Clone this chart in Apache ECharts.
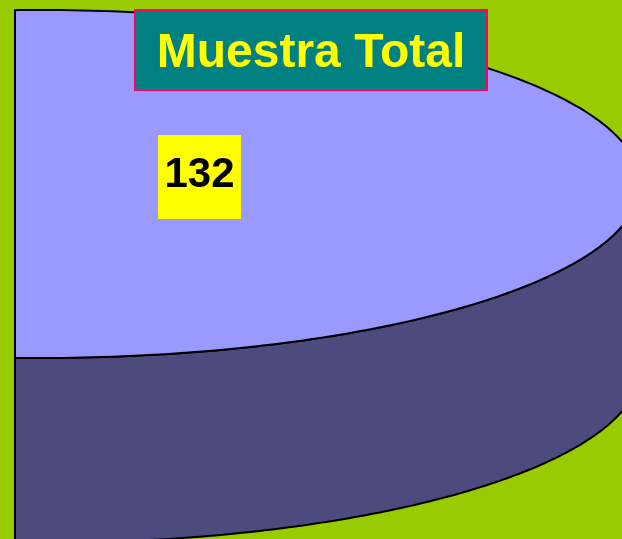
<!DOCTYPE html>
<html lang="es">
<head>
	<meta charset="UTF-8">
	<title>Muestra Total</title>
	<script src="https://cdn.jsdelivr.net/npm/echarts@6/dist/echarts.min.js"></script>
	<style>
		html, body { margin: 0; padding: 0; background: #99CC00; }
	</style>
</head>
<body>
	<div id="container" style="width:622px;height:539px;"></div>

	<script>
		// datos
		var categories = ['Muestra Total'];
		var values = [132];
		var valueLabels = ['132'];

		var total = values.reduce(function(s, v){ return s + v; }, 0);

		// geometria de la torta 3D (elipse recortada a la izquierda)
		var CX = 40, CY = 184, RX = 600, RY = 174, DEPTH = 185, CLIP_L = 15;
		var STEPS = 360;

		var dom = document.getElementById('container');
		var myChart = echarts.init(dom);

		function pt(t, dy){
			var x = CX + RX * Math.cos(t);
			return [Math.max(x, CLIP_L), CY + RY * Math.sin(t) + dy];
		}

		var option = {
			backgroundColor: '#99CC00',
			title: {
				text: categories[0],
				left: 'center',
				top: 10,
				backgroundColor: '#008080',
				borderColor: '#FF0066',
				borderWidth: 2,
				padding: [18, 22, 10, 22],
				textStyle: {
					color: '#FFFF00',
					fontFamily: 'Liberation Sans, Arial, sans-serif',
					fontWeight: 'bold',
					fontSize: 48,
					lineHeight: 52
				},
				z: 10
			},
			series: [{
				type: 'custom',
				coordinateSystem: 'none',
				data: values.map(function(v, i){ return [i, v]; }),
				renderItem: function(params, api){
					var i = params.dataIndex;
					var v = api.value(1);
					var before = 0;
					for (var k = 0; k < i; k++) before += values[k];
					var t0 = -Math.PI / 2 + before / total * Math.PI * 2;
					var t1 = t0 + v / total * Math.PI * 2;
					var full = (t1 - t0) >= Math.PI * 2 - 1e-6;
					var children = [];

					// lado visible (mitad inferior)
					var a0 = Math.max(t0, 0), a1 = Math.min(t1, Math.PI);
					if (a1 > a0) {
						var side = [];
						for (var s = 0; s <= STEPS; s++) side.push(pt(a0 + (a1 - a0) * s / STEPS, 0));
						for (var s2 = STEPS; s2 >= 0; s2--) side.push(pt(a0 + (a1 - a0) * s2 / STEPS, DEPTH));
						children.push({
							type: 'polygon',
							shape: { points: side },
							style: { fill: '#4B4B7E', stroke: '#000', lineWidth: 2 }
						});
					}

					// cara superior
					var top = full ? [] : [[Math.max(CX, CLIP_L), CY]];
					for (var j = 0; j <= STEPS; j++) top.push(pt(t0 + (t1 - t0) * j / STEPS, 0));
					children.push({
						type: 'polygon',
						shape: { points: top },
						style: { fill: '#9999FF', stroke: '#000', lineWidth: 2 }
					});

					// etiqueta del valor
					children.push({
						type: 'rect',
						shape: { x: 158, y: 135, width: 83, height: 84 },
						style: { fill: '#FFFF00' }
					});
					children.push({
						type: 'text',
						style: {
							text: valueLabels[i],
							x: 199.5,
							y: 175,
							fill: '#000',
							font: 'bold 42px "Liberation Sans", Arial, sans-serif',
							align: 'center',
							verticalAlign: 'middle',
							textAlign: 'center',
							textVerticalAlign: 'middle'
						}
					});
					return { type: 'group', children: children };
				}
			}]
		};

		myChart.setOption(option);
	</script>
</body>
</html>
